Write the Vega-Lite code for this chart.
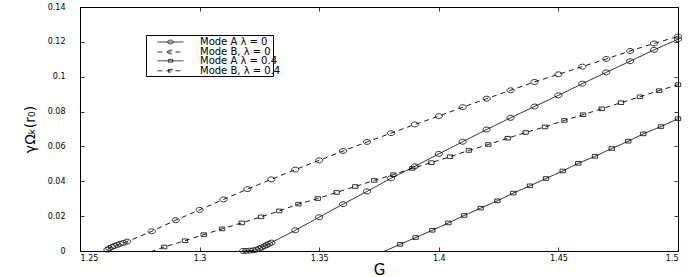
{
  "$schema": "https://vega.github.io/schema/vega-lite/v6.json",
  "autosize": {"type": "none"},
  "width": 598,
  "height": 244,
  "padding": {"left": 80, "top": 7, "right": 14, "bottom": 26},
  "background": "white",
  "config": {
    "view": {"stroke": "black", "strokeWidth": 1},
    "axis": {
      "grid": false,
      "domainColor": "black",
      "domainWidth": 1,
      "tickColor": "black",
      "tickSize": -4,
      "tickWidth": 0.8,
      "labelFont": "DejaVu Sans",
      "labelFontSize": 8,
      "labelColor": "black",
      "titleFont": "DejaVu Sans",
      "titleFontWeight": "normal",
      "titleColor": "black"
    },
    "legend": {
      "orient": "none",
      "legendX": 66,
      "padding": 2,
      "symbolSize": 81,
      "symbolOffset": 17.5,
      "labelOffset": 24.5,
      "labelFont": "DejaVu Sans",
      "labelFontSize": 10,
      "labelColor": "black",
      "rowPadding": -2.2,
      "symbolFillColor": "transparent",
      "symbolStrokeColor": "black",
      "symbolStrokeWidth": 0.8,
      "symbolOpacity": 1
    }
  },
  "data": {
    "values": [
      {"series": "Mode A λ = 0", "G": 1.3182, "y": 0.0},
      {"series": "Mode A λ = 0", "G": 1.3195, "y": 0.0001},
      {"series": "Mode A λ = 0", "G": 1.321, "y": 0.0002},
      {"series": "Mode A λ = 0", "G": 1.3225, "y": 0.0004},
      {"series": "Mode A λ = 0", "G": 1.3238, "y": 0.0008},
      {"series": "Mode A λ = 0", "G": 1.325, "y": 0.0014},
      {"series": "Mode A λ = 0", "G": 1.326, "y": 0.002},
      {"series": "Mode A λ = 0", "G": 1.327, "y": 0.0027},
      {"series": "Mode A λ = 0", "G": 1.328, "y": 0.0034},
      {"series": "Mode A λ = 0", "G": 1.329, "y": 0.0041},
      {"series": "Mode A λ = 0", "G": 1.33, "y": 0.0048},
      {"series": "Mode A λ = 0", "G": 1.34, "y": 0.0119},
      {"series": "Mode A λ = 0", "G": 1.35, "y": 0.0194},
      {"series": "Mode A λ = 0", "G": 1.36, "y": 0.0269},
      {"series": "Mode A λ = 0", "G": 1.37, "y": 0.0342},
      {"series": "Mode A λ = 0", "G": 1.38, "y": 0.0417},
      {"series": "Mode A λ = 0", "G": 1.39, "y": 0.0486},
      {"series": "Mode A λ = 0", "G": 1.4, "y": 0.0557},
      {"series": "Mode A λ = 0", "G": 1.41, "y": 0.0627},
      {"series": "Mode A λ = 0", "G": 1.42, "y": 0.0697},
      {"series": "Mode A λ = 0", "G": 1.43, "y": 0.0764},
      {"series": "Mode A λ = 0", "G": 1.44, "y": 0.0829},
      {"series": "Mode A λ = 0", "G": 1.45, "y": 0.0893},
      {"series": "Mode A λ = 0", "G": 1.46, "y": 0.096},
      {"series": "Mode A λ = 0", "G": 1.47, "y": 0.1025},
      {"series": "Mode A λ = 0", "G": 1.48, "y": 0.1089},
      {"series": "Mode A λ = 0", "G": 1.49, "y": 0.1154},
      {"series": "Mode A λ = 0", "G": 1.5, "y": 0.1215},

      {"series": "Mode B, λ = 0", "G": 1.2615, "y": 0.0008},
      {"series": "Mode B, λ = 0", "G": 1.2623, "y": 0.0016},
      {"series": "Mode B, λ = 0", "G": 1.2633, "y": 0.0023},
      {"series": "Mode B, λ = 0", "G": 1.2644, "y": 0.0029},
      {"series": "Mode B, λ = 0", "G": 1.2656, "y": 0.0035},
      {"series": "Mode B, λ = 0", "G": 1.2668, "y": 0.0041},
      {"series": "Mode B, λ = 0", "G": 1.2682, "y": 0.0047},
      {"series": "Mode B, λ = 0", "G": 1.2697, "y": 0.0054},
      {"series": "Mode B, λ = 0", "G": 1.28, "y": 0.0113},
      {"series": "Mode B, λ = 0", "G": 1.29, "y": 0.0177},
      {"series": "Mode B, λ = 0", "G": 1.3, "y": 0.0236},
      {"series": "Mode B, λ = 0", "G": 1.31, "y": 0.0296},
      {"series": "Mode B, λ = 0", "G": 1.32, "y": 0.0355},
      {"series": "Mode B, λ = 0", "G": 1.33, "y": 0.0411},
      {"series": "Mode B, λ = 0", "G": 1.34, "y": 0.0467},
      {"series": "Mode B, λ = 0", "G": 1.35, "y": 0.052},
      {"series": "Mode B, λ = 0", "G": 1.36, "y": 0.0574},
      {"series": "Mode B, λ = 0", "G": 1.37, "y": 0.0626},
      {"series": "Mode B, λ = 0", "G": 1.38, "y": 0.0676},
      {"series": "Mode B, λ = 0", "G": 1.39, "y": 0.0726},
      {"series": "Mode B, λ = 0", "G": 1.4, "y": 0.0774},
      {"series": "Mode B, λ = 0", "G": 1.41, "y": 0.0825},
      {"series": "Mode B, λ = 0", "G": 1.42, "y": 0.0874},
      {"series": "Mode B, λ = 0", "G": 1.43, "y": 0.0922},
      {"series": "Mode B, λ = 0", "G": 1.44, "y": 0.097},
      {"series": "Mode B, λ = 0", "G": 1.45, "y": 0.1014},
      {"series": "Mode B, λ = 0", "G": 1.46, "y": 0.1058},
      {"series": "Mode B, λ = 0", "G": 1.47, "y": 0.1102},
      {"series": "Mode B, λ = 0", "G": 1.48, "y": 0.1148},
      {"series": "Mode B, λ = 0", "G": 1.49, "y": 0.1191},
      {"series": "Mode B, λ = 0", "G": 1.5, "y": 0.1231},

      {"series": "Mode A λ = 0.4", "G": 1.3705, "y": -0.0042},
      {"series": "Mode A λ = 0.4", "G": 1.3838, "y": 0.0038},
      {"series": "Mode A λ = 0.4", "G": 1.3903, "y": 0.0077},
      {"series": "Mode A λ = 0.4", "G": 1.3973, "y": 0.0119},
      {"series": "Mode A λ = 0.4", "G": 1.404, "y": 0.0161},
      {"series": "Mode A λ = 0.4", "G": 1.4106, "y": 0.0204},
      {"series": "Mode A λ = 0.4", "G": 1.4175, "y": 0.0246},
      {"series": "Mode A λ = 0.4", "G": 1.4245, "y": 0.0288},
      {"series": "Mode A λ = 0.4", "G": 1.4311, "y": 0.0332},
      {"series": "Mode A λ = 0.4", "G": 1.4381, "y": 0.0374},
      {"series": "Mode A λ = 0.4", "G": 1.4448, "y": 0.0416},
      {"series": "Mode A λ = 0.4", "G": 1.4518, "y": 0.0459},
      {"series": "Mode A λ = 0.4", "G": 1.4583, "y": 0.0503},
      {"series": "Mode A λ = 0.4", "G": 1.4653, "y": 0.0543},
      {"series": "Mode A λ = 0.4", "G": 1.4723, "y": 0.0588},
      {"series": "Mode A λ = 0.4", "G": 1.4792, "y": 0.063},
      {"series": "Mode A λ = 0.4", "G": 1.4855, "y": 0.0672},
      {"series": "Mode A λ = 0.4", "G": 1.4929, "y": 0.0714},
      {"series": "Mode A λ = 0.4", "G": 1.5, "y": 0.0759},

      {"series": "Mode B, λ = 0.4", "G": 1.2725, "y": -0.0039},
      {"series": "Mode B, λ = 0.4", "G": 1.2852, "y": 0.0023},
      {"series": "Mode B, λ = 0.4", "G": 1.2939, "y": 0.0059},
      {"series": "Mode B, λ = 0.4", "G": 1.3017, "y": 0.0094},
      {"series": "Mode B, λ = 0.4", "G": 1.3094, "y": 0.0127},
      {"series": "Mode B, λ = 0.4", "G": 1.3176, "y": 0.0161},
      {"series": "Mode B, λ = 0.4", "G": 1.3257, "y": 0.0196},
      {"series": "Mode B, λ = 0.4", "G": 1.3333, "y": 0.023},
      {"series": "Mode B, λ = 0.4", "G": 1.3413, "y": 0.0269},
      {"series": "Mode B, λ = 0.4", "G": 1.3494, "y": 0.0301},
      {"series": "Mode B, λ = 0.4", "G": 1.3573, "y": 0.0336},
      {"series": "Mode B, λ = 0.4", "G": 1.3651, "y": 0.037},
      {"series": "Mode B, λ = 0.4", "G": 1.373, "y": 0.0405},
      {"series": "Mode B, λ = 0.4", "G": 1.381, "y": 0.0438},
      {"series": "Mode B, λ = 0.4", "G": 1.3889, "y": 0.0474},
      {"series": "Mode B, λ = 0.4", "G": 1.3969, "y": 0.0507},
      {"series": "Mode B, λ = 0.4", "G": 1.4047, "y": 0.0541},
      {"series": "Mode B, λ = 0.4", "G": 1.4126, "y": 0.0577},
      {"series": "Mode B, λ = 0.4", "G": 1.4207, "y": 0.0611},
      {"series": "Mode B, λ = 0.4", "G": 1.4288, "y": 0.0647},
      {"series": "Mode B, λ = 0.4", "G": 1.4363, "y": 0.068},
      {"series": "Mode B, λ = 0.4", "G": 1.4444, "y": 0.0712},
      {"series": "Mode B, λ = 0.4", "G": 1.4525, "y": 0.0749},
      {"series": "Mode B, λ = 0.4", "G": 1.4603, "y": 0.0782},
      {"series": "Mode B, λ = 0.4", "G": 1.4681, "y": 0.0816},
      {"series": "Mode B, λ = 0.4", "G": 1.4762, "y": 0.0851},
      {"series": "Mode B, λ = 0.4", "G": 1.4841, "y": 0.0885},
      {"series": "Mode B, λ = 0.4", "G": 1.4921, "y": 0.092},
      {"series": "Mode B, λ = 0.4", "G": 1.5, "y": 0.0954}
    ]
  },
  "resolve": {
    "axis": {"x": "independent", "y": "independent"},
    "scale": {"strokeDash": "independent"},
    "legend": {"strokeDash": "independent"}
  },
  "layer": [
    {
      "transform": [{"filter": {"field": "series", "oneOf": ["Mode A λ = 0", "Mode B, λ = 0"]}}],
      "mark": {"type": "line", "color": "black", "strokeWidth": 0.9, "clip": true},
      "encoding": {
        "x": {
          "field": "G", "type": "quantitative",
          "scale": {"domain": [1.25, 1.5], "nice": false, "zero": false},
          "axis": {"orient": "bottom", "values": [1.25, 1.3, 1.35, 1.4, 1.45, 1.5], "format": "~g", "labelPadding": 7, "title": "G", "titleFontSize": 15, "titlePadding": 0}
        },
        "y": {
          "field": "y", "type": "quantitative",
          "scale": {"domain": [0, 0.14], "nice": false, "zero": false},
          "axis": {"orient": "left", "values": [0, 0.02, 0.04, 0.06, 0.08, 0.1, 0.12, 0.14], "format": "~g", "labelPadding": 19, "title": "γΩₖ(r₀)", "titleFontSize": 14, "titlePadding": 10}
        },
        "strokeDash": {
          "field": "series", "type": "nominal",
          "scale": {"domain": ["Mode A λ = 0", "Mode B, λ = 0"], "range": [[1, 0], [5, 4]]},
          "legend": {
            "title": " ",
            "titleOrient": "bottom",
            "titleFontSize": 1,
            "titlePadding": 16,
            "legendY": 28,
            "strokeColor": "black",
            "fillColor": "white",
            "labelExpr": "datum.label + '      '",
            "symbolType": "M-2.9,0H2.9M-0.63,0A0.63,0.42 0 1,0 0.63,0A0.63,0.42 0 1,0 -0.63,0"
          }
        }
      }
    },
    {
      "transform": [{"filter": {"field": "series", "oneOf": ["Mode A λ = 0.4", "Mode B, λ = 0.4"]}}],
      "mark": {"type": "line", "color": "black", "strokeWidth": 0.9, "clip": true},
      "encoding": {
        "x": {"field": "G", "type": "quantitative", "axis": null},
        "y": {"field": "y", "type": "quantitative", "axis": null},
        "strokeDash": {
          "field": "series", "type": "nominal",
          "scale": {"domain": ["Mode A λ = 0.4", "Mode B, λ = 0.4"], "range": [[1, 0], [5, 4]]},
          "legend": {
            "title": null,
            "legendY": 46.8,
            "symbolType": "M-2.9,0H2.9M-0.47,-0.31H0.47V0.31H-0.47Z"
          }
        }
      }
    },
    {
      "transform": [
        {"filter": {"field": "series", "oneOf": ["Mode A λ = 0", "Mode B, λ = 0"]}},
        {"filter": "datum.y >= 0"}
      ],
      "mark": {"type": "point", "shape": "M-1,0A1,0.68 0 1,0 1,0A1,0.68 0 1,0 -1,0", "filled": false, "stroke": "black", "strokeWidth": 0.8, "size": 52, "opacity": 1},
      "encoding": {
        "x": {
          "field": "G", "type": "quantitative",
          "axis": {"orient": "top", "values": [1.25, 1.3, 1.35, 1.4, 1.45, 1.5], "labels": false, "title": null, "domain": false}
        },
        "y": {
          "field": "y", "type": "quantitative",
          "axis": {"orient": "right", "values": [0, 0.02, 0.04, 0.06, 0.08, 0.1, 0.12, 0.14], "labels": false, "title": null, "domain": false}
        }
      }
    },
    {
      "transform": [
        {"filter": {"field": "series", "oneOf": ["Mode A λ = 0.4", "Mode B, λ = 0.4"]}},
        {"filter": "datum.y >= 0"}
      ],
      "mark": {"type": "point", "shape": "M-0.74,-0.5H0.74V0.5H-0.74Z", "filled": false, "stroke": "black", "strokeWidth": 0.8, "size": 52, "opacity": 1},
      "encoding": {
        "x": {"field": "G", "type": "quantitative", "axis": null},
        "y": {"field": "y", "type": "quantitative", "axis": null}
      }
    }
  ]
}
